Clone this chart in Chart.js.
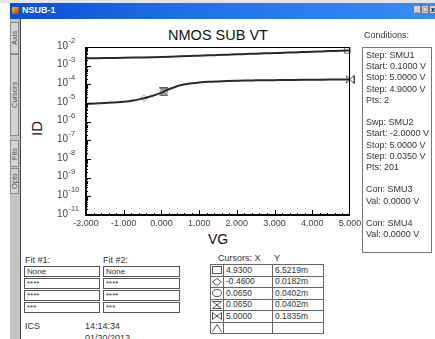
<!DOCTYPE html>
<html>
<head>
<meta charset="utf-8">
<title>NSUB-1</title>
<script src="https://cdn.jsdelivr.net/npm/chart.js@4.4.0/dist/chart.umd.min.js"></script>
<style>
  body { margin: 0; width: 435px; height: 339px; overflow: hidden; background: #fff; position: relative;
         font-family: "Liberation Sans", Arial, sans-serif; color: #333; }
  .abs { position: absolute; }
  #topline { left: 0; top: 0; width: 435px; height: 3px; background: #e4e4e4; }
  #titlebar { left: 10px; top: 3px; width: 425px; height: 16px;
              background: linear-gradient(to right, #0750d4, #1f6fe8 40%, #3a8cf4); }
  #titlebar .txt { left: 12px; top: 2px; color: #fff; font: bold 9px "Liberation Sans", Arial, sans-serif; }
  #titlebar .ico { left: 2px; top: 4px; width: 7px; height: 7px; background: linear-gradient(135deg, #f0c020, #c03020); }
  .btn { top: 5px; width: 8px; height: 9px; background: #d6d3ce; border: 1px solid #7a7a7a; box-sizing: border-box;
         font: bold 7px "Liberation Sans", Arial, sans-serif; color: #000; text-align: center; line-height: 7px; }
  #strip { left: 10px; top: 19px; width: 10px; height: 320px; background: #c4c4c4; border-right: 1px solid #444; }
  .tab { left: 10px; width: 9px; background: #d4d4d4; border: 1px solid #8a8a8a; box-sizing: border-box;
         font-size: 7.5px; color: #555; writing-mode: vertical-rl; transform: rotate(180deg);
         display: flex; align-items: center; justify-content: center; }
  #chartBox { left: 22px; top: 22px; }
  #plotTitle { left: 86px; width: 264px; top: 27px; text-align: center; font-size: 14.5px; color: #111; }
  #yTitle { left: 26px; top: 120px; width: 20px; font-size: 15px; color: #111; transform: rotate(-90deg); text-align: center; }
  #xTitle { left: 198px; width: 40px; top: 231px; text-align: center; font-size: 14px; color: #111; }
  #condLabel { left: 364px; top: 30px; font-size: 9px; }
  #cond { left: 362px; top: 47px; width: 70px; height: 206px; border: 1px solid #777; box-sizing: border-box;
          font-size: 9px; line-height: 11.2px; padding: 2px 0 0 3px; white-space: pre; }
  .lbl { font-size: 9px; }
  .fitRow { width: 76px; height: 11px; border: 1px solid #555; box-sizing: border-box; font-size: 8px;
            line-height: 9px; padding-left: 2px; }
  #cursors { left: 210px; top: 264px; border-collapse: collapse; font-size: 8.5px; }
  #cursors td { border: 1px solid #666; height: 10.5px; padding: 0 2px; line-height: 9px; }
  #cursors td.ic { width: 10px; padding: 0 1px; }
  #cursors td.cx { width: 44px; }
  #cursors td.cy { width: 46px; }
  #cursors svg { display: block; }
</style>
</head>
<body>
<div id="topline" class="abs"></div>
<div id="titlebar" class="abs">
  <div class="ico abs"></div>
  <div class="txt abs">NSUB-1</div>
</div>
<div class="btn abs" style="left:413px">_</div>
<div class="btn abs" style="left:421px">□</div>
<div class="btn abs" style="left:429px">x</div>

<div id="strip" class="abs"></div>
<div class="tab abs" style="top:22px;height:32px">Axis</div>
<div class="tab abs" style="top:54px;height:82px">Cursors</div>
<div class="tab abs" style="top:140px;height:27px">Fits</div>
<div class="tab abs" style="top:168px;height:26px">Opts</div>

<div id="plotTitle" class="abs">NMOS SUB VT</div>
<div id="yTitle" class="abs">ID</div>
<div id="xTitle" class="abs">VG</div>

<div id="chartBox" class="abs"><canvas id="ivChart" width="344" height="228"></canvas></div>

<div id="condLabel" class="abs">Conditions:</div>
<div id="cond" class="abs">Step: SMU1
Start: 0.1000 V
Stop: 5.0000 V
Step: 4.9000 V
Pts: 2

Swp: SMU2
Start: -2.0000 V
Stop: 5.0000 V
Step: 0.0350 V
Pts: 201

Con: SMU3
Val: 0.0000 V

Con: SMU4
Val: 0.0000 V</div>

<div class="lbl abs" style="left:25px;top:255px">Fit #1:</div>
<div class="lbl abs" style="left:103px;top:255px">Fit #2:</div>
<div class="abs" style="left:24px;top:266px">
  <div class="fitRow">None</div>
  <div class="fitRow" style="margin-top:1px">****</div>
  <div class="fitRow" style="margin-top:1px">****</div>
  <div class="fitRow" style="margin-top:1px">***</div>
</div>
<div class="abs" style="left:103px;top:266px">
  <div class="fitRow" style="width:77px">None</div>
  <div class="fitRow" style="width:77px;margin-top:1px">****</div>
  <div class="fitRow" style="width:77px;margin-top:1px">****</div>
  <div class="fitRow" style="width:77px;margin-top:1px">***</div>
</div>
<div class="lbl abs" style="left:25px;top:321px">ICS</div>
<div class="lbl abs" style="left:85px;top:321px">14:14:34</div>
<div class="lbl abs" style="left:85px;top:333px">01/30/2013</div>

<div class="lbl abs" style="left:218px;top:253px">Cursors: X</div>
<div class="lbl abs" style="left:274px;top:253px">Y</div>
<table id="cursors" class="abs">
  <tr><td class="ic"><svg width="10" height="8"><rect x="0.5" y="0.5" width="9" height="7" fill="none" stroke="#555"/></svg></td><td class="cx">4.9300</td><td class="cy">6.5219m</td></tr>
  <tr><td class="ic"><svg width="10" height="8"><path d="M0.5 4 L5 0.5 L9.5 4 L5 7.5 Z" fill="none" stroke="#555"/></svg></td><td class="cx">-0.4600</td><td class="cy">0.0182m</td></tr>
  <tr><td class="ic"><svg width="10" height="8"><ellipse cx="5" cy="4" rx="4.5" ry="3.5" fill="none" stroke="#555"/></svg></td><td class="cx">0.0650</td><td class="cy">0.0402m</td></tr>
  <tr><td class="ic"><svg width="10" height="8"><path d="M0.5 0.5 L9.5 0.5 L0.5 7.5 L9.5 7.5 Z" fill="none" stroke="#555"/></svg></td><td class="cx">0.0650</td><td class="cy">0.0402m</td></tr>
  <tr><td class="ic"><svg width="10" height="8"><path d="M0.5 0.5 L9.5 7.5 L9.5 0.5 L0.5 7.5 Z" fill="none" stroke="#555"/></svg></td><td class="cx">5.0000</td><td class="cy">0.1835m</td></tr>
  <tr><td class="ic"><svg width="10" height="8"><path d="M0.5 7.5 L5 0.5 L9.5 7.5" fill="none" stroke="#555"/></svg></td><td class="cx"></td><td class="cy"></td></tr>
</table>

<script>
// gate sweep points (V) and drain current for the two SMU1 steps (A)
const vgValues = [-2.00, -1.75, -1.50, -1.25, -1.00, -0.75, -0.50, -0.25, 0.00, 0.25,
                  0.50, 0.75, 1.00, 1.25, 1.50, 1.75, 2.00, 2.25, 2.50, 2.75,
                  3.00, 3.25, 3.50, 3.75, 4.00, 4.25, 4.50, 4.75, 5.00];
const upperId = [2.51e-3, 2.53e-3, 2.56e-3, 2.60e-3, 2.65e-3, 2.71e-3, 2.78e-3, 2.86e-3, 2.95e-3, 3.05e-3,
                 3.16e-3, 3.28e-3, 3.42e-3, 3.56e-3, 3.72e-3, 3.88e-3, 4.05e-3, 4.22e-3, 4.40e-3, 4.58e-3,
                 4.76e-3, 4.95e-3, 5.14e-3, 5.35e-3, 5.56e-3, 5.80e-3, 6.05e-3, 6.32e-3, 6.58e-3];
const lowerId = [8.9e-6, 9.3e-6, 9.9e-6, 1.07e-5, 1.16e-5, 1.35e-5, 1.74e-5, 2.35e-5, 3.6e-5, 6.0e-5,
                 9.0e-5, 1.10e-4, 1.24e-4, 1.36e-4, 1.44e-4, 1.51e-4, 1.56e-4, 1.60e-4, 1.63e-4, 1.66e-4,
                 1.68e-4, 1.70e-4, 1.72e-4, 1.74e-4, 1.76e-4, 1.78e-4, 1.80e-4, 1.82e-4, 1.835e-4];

// cursor readouts: square, diamond, circle, hourglass, bowtie
const cursorX = [4.93, -0.46, 0.065, 0.065, 5.0];
const cursorY = [6.5219e-3, 0.0182e-3, 0.0402e-3, 0.0402e-3, 0.1835e-3];

const xTicks = [-2, -1, 0, 1, 2, 3, 4, 5];
const yDecades = [-11, -10, -9, -8, -7, -6, -5, -4, -3, -2];

const FONT = '"Liberation Sans", Arial, sans-serif';

function makeIcon(draw) {
    const c = document.createElement('canvas');
    c.width = 9; c.height = 9;
    draw(c.getContext('2d'));
    return c;
}
const hourglassIcon = makeIcon(function(g) {
    g.fillStyle = '#b0b0b0'; g.strokeStyle = '#555'; g.lineWidth = 1;
    g.beginPath(); g.moveTo(0.5, 0.5); g.lineTo(8.5, 0.5); g.lineTo(0.5, 8.5); g.lineTo(8.5, 8.5); g.closePath();
    g.fill(); g.stroke();
});
const bowtieIcon = makeIcon(function(g) {
    g.strokeStyle = '#444'; g.lineWidth = 1;
    g.beginPath(); g.moveTo(0.5, 0.5); g.lineTo(8.5, 8.5); g.lineTo(8.5, 0.5); g.lineTo(0.5, 8.5); g.closePath();
    g.stroke();
});

function curve(values) {
    return vgValues.map((v, i) => ({ x: v, y: values[i] }));
}
function cursorSet(i, style, color, radius) {
    return {
        data: [{ x: cursorX[i], y: cursorY[i] }],
        showLine: false, pointStyle: style, pointRadius: radius,
        pointBorderColor: color, pointBackgroundColor: 'rgba(0,0,0,0)', pointBorderWidth: 1,
        clip: false
    };
}

// inward ticks, frame and 10^n labels
const axisFrame = {
    id: 'axisFrame',
    afterDraw(chart) {
        const { ctx, chartArea: a, scales: { x, y } } = chart;
        ctx.save();
        ctx.strokeStyle = '#000';
        ctx.lineWidth = 1;
        ctx.strokeRect(a.left + 0.5, a.top + 0.5, a.right - a.left - 1, a.bottom - a.top - 1);
        ctx.lineWidth = 2;
        ctx.beginPath();
        ctx.moveTo(a.left, a.top);
        ctx.lineTo(a.left, a.bottom);
        ctx.lineTo(a.right, a.bottom);
        ctx.stroke();

        ctx.lineWidth = 1;
        ctx.beginPath();
        for (let i = 0; i < xTicks.length - 1; i++) {
            for (let k = 0; k < 5; k++) {
                const px = Math.round(x.getPixelForValue(xTicks[i] + k * 0.2)) + 0.5;
                const len = k === 0 ? 5 : 2;
                ctx.moveTo(px, a.bottom);
                ctx.lineTo(px, a.bottom - len);
            }
        }
        yDecades.forEach(function(e) {
            const base = Math.pow(10, e);
            const py = Math.round(y.getPixelForValue(base)) + 0.5;
            ctx.moveTo(a.left, py);
            ctx.lineTo(a.left + 5, py);
            if (e < yDecades[yDecades.length - 1]) {
                for (let m = 2; m <= 9; m++) {
                    const pm = Math.round(y.getPixelForValue(base * m)) + 0.5;
                    ctx.moveTo(a.left, pm);
                    ctx.lineTo(a.left + 2, pm);
                }
            }
        });
        ctx.stroke();

        ctx.fillStyle = '#444';
        ctx.textBaseline = 'middle';
        ctx.textAlign = 'left';
        yDecades.forEach(function(e) {
            const py = y.getPixelForValue(Math.pow(10, e));
            const lx = a.left - 29;
            ctx.font = '10px ' + FONT;
            ctx.fillText('10', lx, py - 1);
            const w = ctx.measureText('10').width;
            ctx.font = '7.5px ' + FONT;
            ctx.fillText(String(e), lx + w + 0.5, py - 6);
        });
        ctx.restore();
    }
};

new Chart(document.getElementById('ivChart').getContext('2d'), {
    type: 'scatter',
    data: {
        datasets: [
            { data: curve(upperId), showLine: true, borderColor: '#2a2a2a', borderWidth: 2,
              pointRadius: 0, cubicInterpolationMode: 'monotone' },
            { data: curve(lowerId), showLine: true, borderColor: '#2a2a2a', borderWidth: 2,
              pointRadius: 0, cubicInterpolationMode: 'monotone' },
            cursorSet(0, 'rect', '#777', 4),
            cursorSet(1, 'rectRot', '#e070e8', 3.5),
            cursorSet(2, 'circle', '#777', 3.5),
            cursorSet(3, hourglassIcon, '#555', 4),
            cursorSet(4, bowtieIcon, '#444', 4)
        ]
    },
    options: {
        responsive: false,
        animation: false,
        events: [],
        layout: { padding: { top: 25, right: 16, left: 0, bottom: 0 } },
        plugins: { legend: { display: false }, tooltip: { enabled: false } },
        scales: {
            x: {
                type: 'linear', min: -2, max: 5,
                grid: { display: false, drawTicks: false }, border: { display: false },
                ticks: {
                    stepSize: 1, autoSkip: false, maxRotation: 0, padding: 3,
                    color: '#444', font: { size: 9, family: FONT },
                    callback: v => Number(v).toFixed(3)
                },
                afterFit: s => { s.height = 35; }
            },
            y: {
                type: 'logarithmic', min: 1e-11, max: 1e-2,
                grid: { display: false }, border: { display: false },
                ticks: { display: false },
                afterFit: s => { s.width = 64; }
            }
        }
    },
    plugins: [axisFrame]
});
</script>
</body>
</html>
